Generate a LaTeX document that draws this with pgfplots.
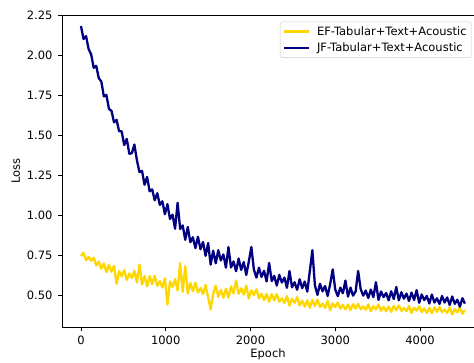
\documentclass[border=0pt]{standalone}
\usepackage{fontspec}
\setmainfont{DejaVu Sans}
\usepackage{pgfplots}
\pgfplotsset{compat=1.18}
\definecolor{efcol}{HTML}{FFD700}
\definecolor{jfcol}{HTML}{000080}
\begin{document}
\begin{tikzpicture}
\useasboundingbox (-62pt,-35pt) rectangle (412pt,327pt);
\begin{axis}[
  scale only axis, width=412pt, height=312pt,
  at={(0pt,0pt)}, anchor=south west,
  xmin=-224, xmax=4637, ymin=0.30, ymax=2.25,
  axis x line*=box, axis y line*=left,
  axis line style={-, black, line width=0.8pt},
  xtick pos=left, ytick pos=left,
  tick align=outside, major tick length=4pt,
  tick style={black, line width=0.8pt},
  xtick={0,1000,2000,3000,4000},
  ytick={0.5,0.75,1.0,1.25,1.5,1.75,2.0,2.25},
  /pgf/number format/assume math mode=true,
  xticklabel style={/pgf/number format/1000 sep={}, yshift=-1.5pt},
  yticklabel style={/pgf/number format/fixed, /pgf/number format/fixed zerofill, /pgf/number format/precision=2, xshift=-2pt},
  ticklabel style={font=\fontsize{11.5}{13.8}\selectfont},
  xlabel={Epoch}, ylabel={Loss},
  label style={font=\fontsize{11.5}{13.8}\selectfont},
  xlabel style={yshift=3pt},
  legend style={at={(0.529,0.9785)}, anchor=north west, draw=black!20, rounded corners=2pt,
    fill=white, font=\fontsize{11.5}{13.8}\selectfont, row sep=2.3pt, inner sep=2.5pt,
    /tikz/every odd column/.append style={column sep=5pt}},
  legend cell align=left,
  legend image code/.code={\draw[#1] (0cm,0cm) -- (0.88cm,0cm);},
]
\addplot[draw=efcol, line width=2.3pt, line join=round, mark=none, forget plot] table {
0 0.743
30 0.764
60 0.717
90 0.738
120 0.714
150 0.733
180 0.684
210 0.709
240 0.664
270 0.697
300 0.643
330 0.688
360 0.646
390 0.682
420 0.570
450 0.649
480 0.616
510 0.656
540 0.594
570 0.635
600 0.606
630 0.651
660 0.578
690 0.690
720 0.566
750 0.618
780 0.554
810 0.619
840 0.568
870 0.620
900 0.557
930 0.586
960 0.547
990 0.604
1020 0.440
1050 0.584
1080 0.550
1110 0.599
1140 0.529
1170 0.700
1200 0.520
1230 0.680
1260 0.510
1290 0.575
1320 0.524
1350 0.577
1380 0.515
1410 0.544
1440 0.506
1470 0.563
1500 0.485
1530 0.410
1560 0.509
1590 0.558
1620 0.489
1650 0.532
1680 0.483
1710 0.540
1740 0.483
1770 0.554
1800 0.509
1830 0.590
1860 0.508
1890 0.542
1920 0.502
1950 0.558
1980 0.478
2010 0.529
2040 0.500
2070 0.535
2100 0.479
2130 0.508
2160 0.468
2190 0.506
2220 0.458
2250 0.506
2280 0.467
2310 0.506
2340 0.458
2370 0.480
2400 0.450
2430 0.493
2460 0.433
2490 0.476
2520 0.450
2550 0.487
2580 0.434
2610 0.465
2640 0.427
2670 0.467
2700 0.420
2730 0.469
2760 0.431
2790 0.471
2820 0.425
2850 0.447
2880 0.419
2910 0.463
2940 0.405
2970 0.448
3000 0.425
3030 0.453
3060 0.415
3090 0.438
3120 0.410
3150 0.440
3180 0.406
3210 0.443
3240 0.415
3270 0.445
3300 0.411
3330 0.428
3360 0.408
3390 0.440
3420 0.398
3450 0.430
3480 0.411
3510 0.440
3540 0.402
3570 0.426
3600 0.398
3630 0.428
3660 0.395
3690 0.432
3720 0.405
3750 0.435
3780 0.401
3810 0.419
3840 0.398
3870 0.431
3900 0.388
3930 0.420
3960 0.402
3990 0.430
4020 0.393
4050 0.416
4080 0.388
4110 0.419
4140 0.385
4170 0.423
4200 0.395
4230 0.425
4260 0.392
4290 0.409
4320 0.389
4350 0.421
4380 0.378
4410 0.411
4440 0.392
4470 0.421
4500 0.383
4530 0.407
};
\addplot[draw=jfcol, line width=2.3pt, line join=round, mark=none, forget plot] table {
0 2.181
30 2.100
60 2.118
90 2.037
120 2.004
150 1.920
180 1.932
210 1.855
240 1.834
270 1.741
300 1.750
330 1.663
360 1.651
390 1.579
420 1.595
450 1.523
480 1.523
510 1.437
540 1.476
570 1.383
600 1.386
630 1.440
660 1.342
690 1.268
720 1.276
750 1.189
780 1.238
810 1.148
840 1.160
870 1.092
900 1.136
930 1.063
960 1.086
990 1.005
1020 1.068
1050 0.975
1080 1.002
1110 0.914
1140 1.076
1170 0.913
1200 0.935
1230 0.845
1260 0.925
1290 0.830
1320 0.861
1350 0.793
1380 0.864
1410 0.786
1440 0.831
1470 0.745
1500 0.825
1530 0.690
1560 0.777
1590 0.698
1620 0.780
1650 0.716
1680 0.753
1710 0.671
1740 0.800
1770 0.672
1800 0.710
1830 0.649
1860 0.728
1890 0.657
1920 0.706
1950 0.625
1980 0.709
2010 0.800
2040 0.659
2070 0.609
2100 0.671
2130 0.613
2160 0.651
2190 0.585
2220 0.700
2250 0.587
2280 0.619
2310 0.559
2340 0.626
2370 0.578
2400 0.609
2430 0.545
2460 0.650
2490 0.548
2520 0.580
2550 0.533
2580 0.598
2610 0.543
2640 0.584
2670 0.521
2700 0.650
2730 0.780
2760 0.560
2790 0.501
2820 0.570
2850 0.523
2880 0.556
2910 0.494
2940 0.568
2970 0.660
3000 0.534
3030 0.493
3060 0.546
3090 0.511
3120 0.590
3150 0.490
3180 0.546
3210 0.496
3240 0.522
3270 0.650
3300 0.537
3330 0.496
3360 0.528
3390 0.481
3420 0.534
3450 0.487
3480 0.580
3510 0.469
3540 0.522
3570 0.487
3600 0.513
3630 0.467
3660 0.523
3690 0.475
3720 0.550
3750 0.467
3780 0.517
3810 0.477
3840 0.509
3870 0.463
3900 0.515
3930 0.469
3960 0.530
3990 0.451
4020 0.503
4050 0.468
4080 0.494
4110 0.447
4140 0.503
4170 0.453
4200 0.479
4230 0.444
4260 0.494
4290 0.453
4320 0.485
4350 0.438
4380 0.491
4410 0.445
4440 0.470
4470 0.427
4500 0.480
4530 0.446
};
\addlegendimage{draw=efcol, line width=2.4pt}
\addlegendentry{EF-Tabular+Text+Acoustic}
\addlegendimage{draw=jfcol, line width=2.0pt}
\addlegendentry{JF-Tabular+Text+Acoustic}
\end{axis}
\end{tikzpicture}
\end{document}
